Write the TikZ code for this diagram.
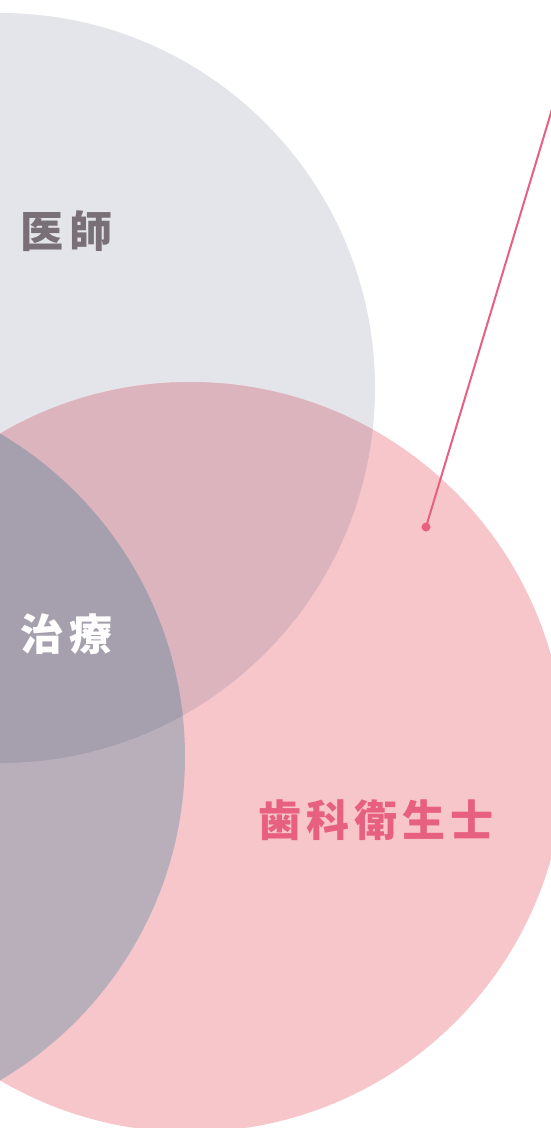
\documentclass[tikz,border=0pt]{standalone}
\usepackage{fontspec}
\newfontfamily\jpfont{Noto Sans CJK JP}
\usetikzlibrary{positioning}
\definecolor{doctorbg}{HTML}{E4E5EA}
\definecolor{hygienebg}{HTML}{F7C6CB}
\definecolor{sharedbg}{HTML}{DCB4BD}
\definecolor{treatbg}{HTML}{B9AFBB}
\definecolor{coreb}{HTML}{A69FAD}
\definecolor{doctortext}{HTML}{787076}
\definecolor{hygienetext}{HTML}{E8607F}

\begin{document}
\begin{tikzpicture}[x=1pt, y=-1pt,
    term/.style={inner sep=0, anchor=west, font=\jpfont\bfseries\fontsize{43}{43}\selectfont},
    pin/.style={circle, fill=hygienetext, inner sep=0, minimum size=9pt}]
  \useasboundingbox (0,0) rectangle (551,1128);
  \clip (0,0) rectangle (551,1128);

  % circles
  \fill[doctorbg] (0,388) circle (375pt);
  \fill[hygienebg] (190,757) circle (375pt);
  \begin{scope}
    \clip (0,388) circle (375pt);
    \fill[sharedbg] (190,757) circle (375pt);
  \end{scope}
  \begin{scope}
    \clip (190,757) circle (375pt);
    \fill[treatbg] (-190,757) circle (375pt);
  \end{scope}
  \begin{scope}
    \clip (0,388) circle (375pt);
    \fill[coreb] (-190,757) circle (375pt);
  \end{scope}

  % labels
  \node[term, text=doctortext] (doctor) at (20,231) {\addfontfeature{LetterSpace=15}医師};
  \node[term, text=white] (treat) at (20,634) {\addfontfeature{LetterSpace=15}治療};
  \node[term, text=hygienetext] (hygienist) at (258,820) {\addfontfeature{LetterSpace=12}歯科衛生士};

  % pointer
  \node[pin] (dot) at (426,527) {};
  \coordinate (tip) at (585,0);
  \draw[hygienetext, line width=2pt] (dot.center) -- (tip);
\end{tikzpicture}
\end{document}
